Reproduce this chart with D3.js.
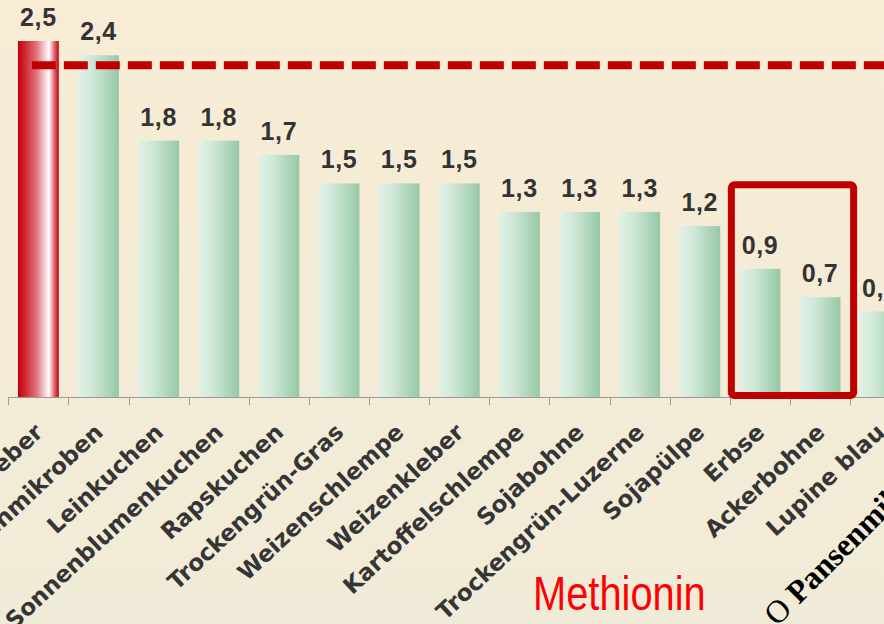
<!DOCTYPE html>
<html>
<head>
<meta charset="utf-8">
<script src="https://cdn.jsdelivr.net/npm/d3@7"></script>
<style>
  html, body { margin: 0; padding: 0; background: #f6ecd7; }
  svg { display: block; }
</style>
</head>
<body>
<div id="chart"></div>
<script>
// Methionin-Gehalt der Futtermittel (Werte wie beschriftet)
const categories = [
  "Maiskleber", "Pansenmikroben", "Leinkuchen", "Sonnenblumenkuchen",
  "Rapskuchen", "Trockengrün-Gras", "Weizenschlempe", "Weizenkleber",
  "Kartoffelschlempe", "Sojabohne", "Trockengrün-Luzerne", "Sojapülpe",
  "Erbse", "Ackerbohne", "Lupine blau"
];
const values = [2.5, 2.4, 1.8, 1.8, 1.7, 1.5, 1.5, 1.5, 1.3, 1.3, 1.3, 1.2, 0.9, 0.7, 0.6];
const highlighted = ["Maiskleber"];          // rot hervorgehobener Balken
const framed = ["Erbse", "Ackerbohne"];       // eingerahmte Gruppe
const frameTop = 1.49;                        // Oberkante des Rahmens (Wertskala)
const referenceValue = 2.33;                  // gestrichelte Bezugslinie
const title = "Methionin";
const noteMark = "O";
const noteText = " Pansenmikroben";

const W = 884, H = 624;
const svg = d3.select("#chart").append("svg")
  .attr("width", W).attr("height", H);

const defs = svg.append("defs");

const bg = defs.append("linearGradient").attr("id", "bg")
  .attr("x1", 0).attr("y1", 0).attr("x2", 0).attr("y2", 1);
bg.append("stop").attr("offset", 0).attr("stop-color", "#f8ecd5");
bg.append("stop").attr("offset", 1).attr("stop-color", "#f0ebd8");

const green = defs.append("linearGradient").attr("id", "green")
  .attr("x1", 0).attr("y1", 0).attr("x2", 1).attr("y2", 0);
[[0, "#e2f1e8"], [0.35, "#cfe8d8"], [0.75, "#acd4b8"], [1, "#96c8a6"]]
  .forEach(([o, c]) => green.append("stop").attr("offset", o).attr("stop-color", c));

const red = defs.append("linearGradient").attr("id", "red")
  .attr("x1", 0).attr("y1", 0).attr("x2", 1).attr("y2", 0);
[[0, "#c0000a"], [0.12, "#cc1a24"], [0.45, "#e0707a"], [0.7, "#fbe4e6"], [0.76, "#ffffff"],
 [0.88, "#e3727c"], [1, "#c0000a"]]
  .forEach(([o, c]) => red.append("stop").attr("offset", o).attr("stop-color", c));

svg.append("rect").attr("width", W).attr("height", H).attr("fill", "url(#bg)");

const pad = 0.32;
const x = d3.scaleBand().domain(categories)
  .range([8.3, 8.3 + 60.13 * categories.length])
  .paddingInner(pad).paddingOuter(pad / 2);
const y = d3.scaleLinear().domain([0, 2.5]).range([397, 41]);
const step = x.step();
const bandStart = d => x(d) - step * pad / 2;

// Balken
svg.append("g").selectAll("rect").data(categories).join("rect")
  .attr("x", d => x(d))
  .attr("width", x.bandwidth())
  .attr("y", (d, i) => y(values[i]))
  .attr("height", (d, i) => y(0) - y(values[i]))
  .attr("fill", d => highlighted.includes(d) ? "url(#red)" : "url(#green)");

// Achse mit Teilstrichen zwischen den Kategorien
const axis = svg.append("g").attr("stroke", "#9a9a9a").attr("stroke-width", 1);
axis.append("line")
  .attr("x1", bandStart(categories[0])).attr("x2", W)
  .attr("y1", y(0) + 0.5).attr("y2", y(0) + 0.5);
const tickXs = categories.map(bandStart).concat([bandStart(categories[categories.length - 1]) + step]);
axis.selectAll("line.tick").data(tickXs).join("line").attr("class", "tick")
  .attr("x1", d => Math.round(d) + 0.5).attr("x2", d => Math.round(d) + 0.5)
  .attr("y1", y(0)).attr("y2", y(0) + 8);

// Wertbeschriftungen
svg.append("g").selectAll("text").data(categories).join("text")
  .attr("x", d => x(d) + x.bandwidth() / 2)
  .attr("y", (d, i) => y(values[i]) - 15)
  .attr("text-anchor", "middle")
  .attr("font-family", "'Liberation Sans', Arial, sans-serif")
  .attr("font-weight", "bold")
  .attr("font-size", 25)
  .attr("letter-spacing", 0.6)
  .attr("fill", "#333333")
  .text((d, i) => d3.format(".1f")(values[i]).replace(".", ","));

// Kategorienbeschriftungen, schräg
svg.append("g").selectAll("text").data(categories).join("text")
  .attr("transform", d => `translate(${x(d) + x.bandwidth() / 2 + 6},${y(0) + 37}) rotate(-43)`)
  .attr("text-anchor", "end")
  .attr("font-family", "'DejaVu Sans', Verdana, sans-serif")
  .attr("font-weight", "bold")
  .attr("font-size", 23)
  .attr("fill", "#353535")
  .text(d => d);

// gestrichelte Bezugslinie
svg.append("line")
  .attr("x1", x(categories[0]) + x.bandwidth() * 0.34).attr("x2", W + 40)
  .attr("y1", y(referenceValue)).attr("y2", y(referenceValue))
  .attr("stroke", "#c00000").attr("stroke-width", 8)
  .attr("stroke-dasharray", "24 8");

// Rahmen um Erbse und Ackerbohne
const f0 = framed[0], f1 = framed[framed.length - 1];
svg.append("rect")
  .attr("x", bandStart(f0) + 1.5)
  .attr("y", y(frameTop))
  .attr("width", bandStart(f1) + step + 3.5 - (bandStart(f0) + 1.5))
  .attr("height", y(0) - 1.5 - y(frameTop))
  .attr("rx", 3)
  .attr("fill", "none").attr("stroke", "#c00000").attr("stroke-width", 7);

// Titel
svg.append("text")
  .attr("transform", "translate(533,610) scale(0.83,1)")
  .attr("font-family", "'Liberation Sans', Arial, sans-serif")
  .attr("font-size", 48)
  .attr("fill", "#ff0000")
  .attr("stroke", "#ffffff").attr("stroke-opacity", 0.45).attr("stroke-width", 1.5)
  .attr("paint-order", "stroke")
  .text(title);

// Hinweis rechts unten
const note = svg.append("text")
  .attr("transform", "translate(777,627) rotate(-45)")
  .attr("font-family", "'Liberation Serif', 'Times New Roman', serif")
  .attr("font-weight", "bold")
  .attr("font-size", 32)
  .attr("fill", "#000000");
note.append("tspan").attr("font-weight", "normal").text(noteMark);
note.append("tspan").text(noteText);
</script>
</body>
</html>
